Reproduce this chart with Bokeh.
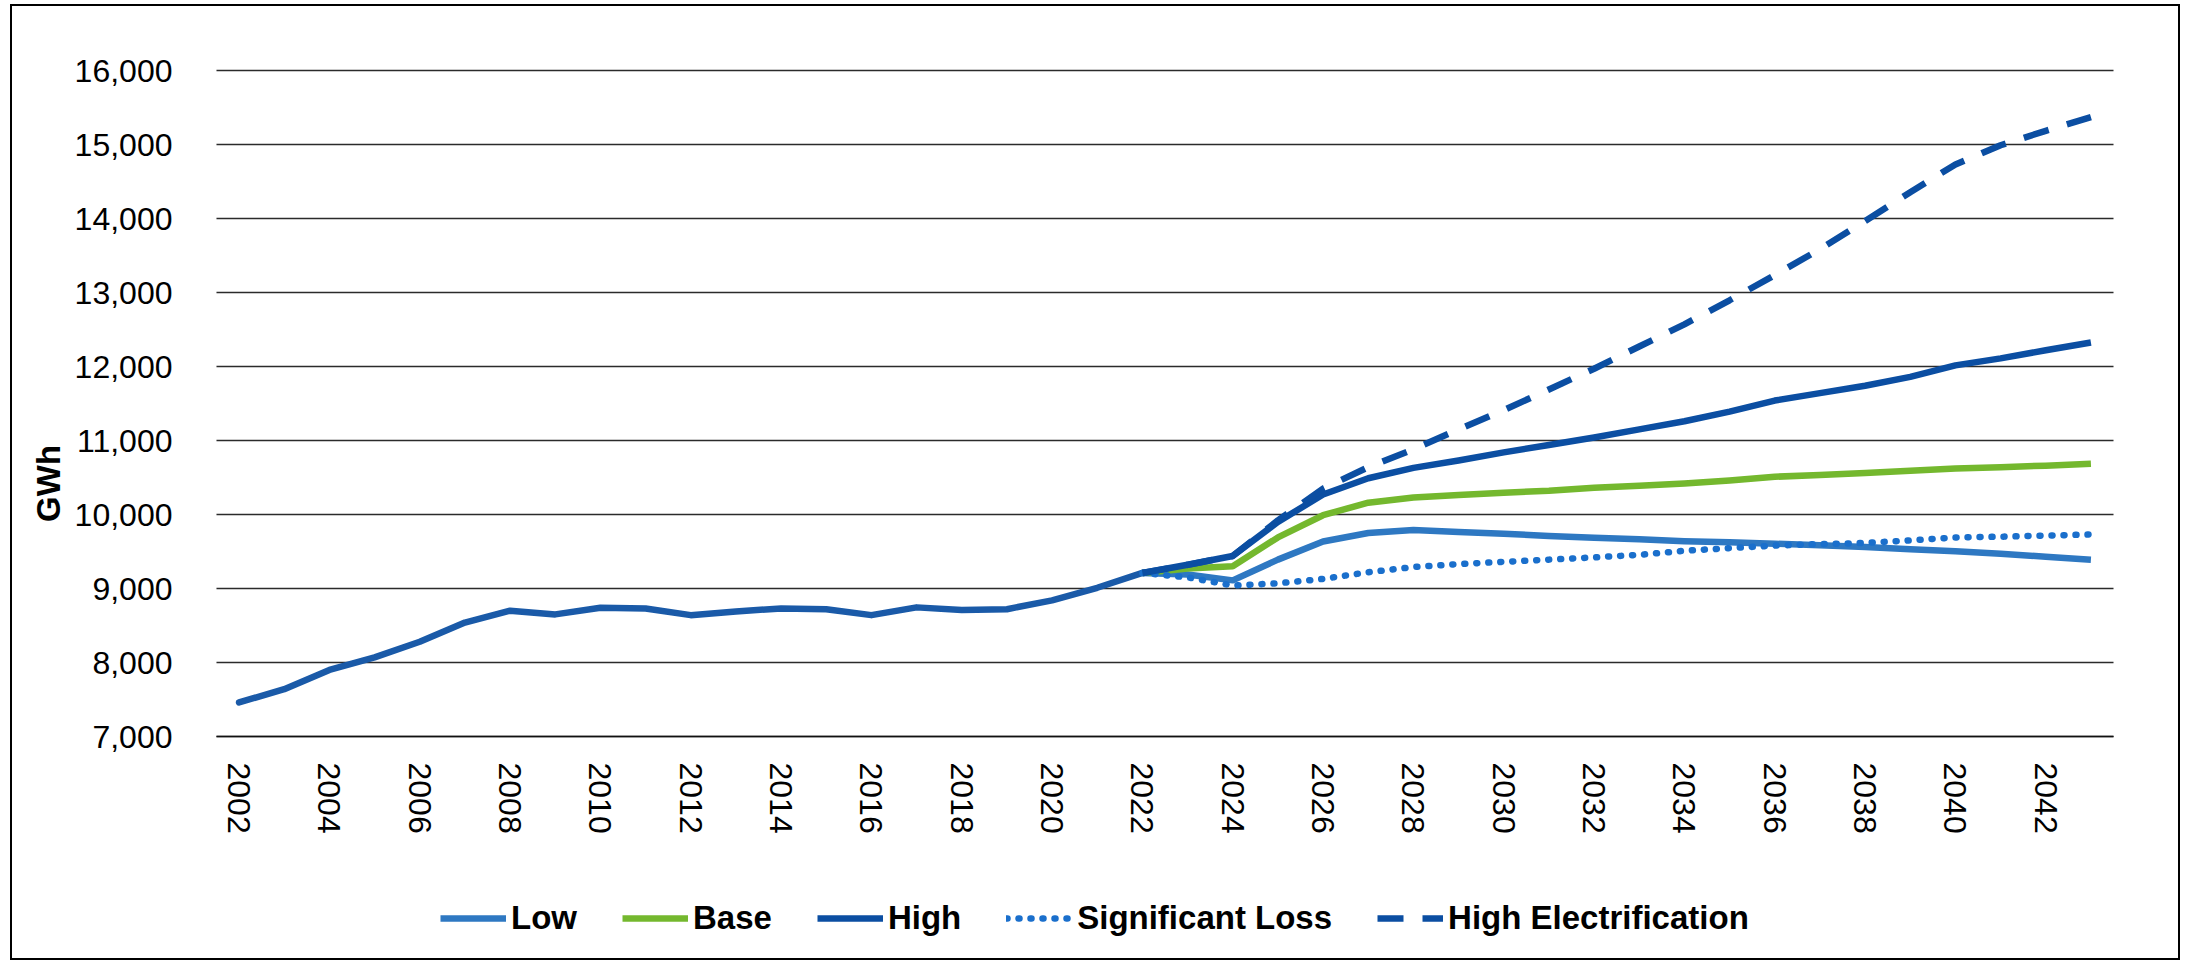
import math

from bokeh.embed import file_html
from bokeh.models import FixedTicker, Label, Legend, LegendItem, NumeralTickFormatter, Range1d
from bokeh.plotting import figure
from bokeh.resources import INLINE

# Annual energy (GWh): shared history, then one projection per scenario
years_hist = list(range(2002, 2023))
history = [7460, 7640, 7900, 8070, 8280, 8540, 8700, 8650, 8740, 8730, 8640,
           8690, 8730, 8720, 8640, 8745, 8710, 8720, 8840, 9010, 9210]

years_proj = list(range(2022, 2044))
low = [9210, 9190, 9110, 9390, 9635, 9750, 9790, 9765, 9740, 9710, 9685,
       9665, 9640, 9625, 9605, 9585, 9560, 9530, 9505, 9470, 9430, 9390]
base = [9210, 9270, 9300, 9690, 9990, 10160, 10230, 10265, 10295, 10320, 10360,
        10390, 10420, 10460, 10510, 10535, 10560, 10590, 10620, 10640, 10660, 10685]
high = [9210, 9320, 9440, 9900, 10270, 10490, 10630, 10730, 10840, 10940, 11040,
        11150, 11260, 11390, 11540, 11640, 11740, 11860, 12015, 12110, 12220, 12325]
significant_loss = [9210, 9150, 9040, 9070, 9130, 9220, 9290, 9330, 9360, 9390, 9420,
                    9455, 9510, 9545, 9580, 9600, 9615, 9650, 9690, 9700, 9715, 9730]
high_electrification = [9210, 9320, 9440, 9920, 10350, 10640, 10880, 11150, 11410, 11690, 11970,
                        12270, 12570, 12895, 13235, 13585, 13965, 14355, 14730, 14990, 15185, 15370]

y_ticks = list(range(7000, 16001, 1000))
x_ticks = list(range(years_hist[0], years_proj[-1], 2))

FONT = "Liberation Sans"
C_LOW = "#2E78C2"
C_BASE = "#74B82E"
C_HIGH = "#0B4EA2"
C_LOSS = "#1A6FCC"
C_HIST = "#1A5AA8"

# plotting area in data units; the frame also holds the axes, legend and axis title
x_lo, x_hi = years_hist[0] - 0.5, years_proj[-1] + 0.5
y_lo, y_hi = y_ticks[0], y_ticks[-1]
W, H = 2166, 952
px_per_year = 45.17
px_per_gwh = 0.0740

p = figure(
    width=W, height=H,
    output_backend="svg", toolbar_location=None, title_location=None,
    x_range=Range1d(x_lo - 204 / px_per_year, x_hi + 65 / px_per_year),
    y_range=Range1d(y_lo - 222 / px_per_gwh, y_hi + 64 / px_per_gwh),
    min_border=0,
    background_fill_color="white", border_fill_color="white",
)
p.styles = {"margin-left": "12px", "margin-top": "6px", "outline": "2px solid #000"}
p.outline_line_color = None

# horizontal gridlines across the plotting area only
p.xgrid.visible = False
p.ygrid.visible = False
p.segment(x0=[x_lo] * len(y_ticks), x1=[x_hi] * len(y_ticks), y0=y_ticks, y1=y_ticks,
          line_color="#2b2b2b", line_width=1.6)

xa, ya = p.xaxis[0], p.yaxis[0]
ya.ticker = FixedTicker(ticks=y_ticks)
ya.formatter = NumeralTickFormatter(format="0,0")
xa.ticker = FixedTicker(ticks=x_ticks)
ya.fixed_location = x_lo
xa.fixed_location = y_lo
xa.bounds = (x_lo, x_hi)

for ax in (xa, ya):
    ax.major_tick_line_color = None
    ax.minor_tick_line_color = None
    ax.major_label_text_font = FONT
    ax.major_label_text_font_size = "32px"
    ax.major_label_text_color = "#000000"
ya.axis_line_color = None
ya.major_label_standoff = 38
xa.axis_line_color = "#111111"
xa.axis_line_width = 1.6
xa.major_label_orientation = -math.pi / 2
xa.major_label_standoff = 20

LW = 6.5
p.line(years_hist, history, line_color=C_HIST, line_width=LW, line_join="round", line_cap="round")
r_low = p.line(years_proj, low, line_color=C_LOW, line_width=LW, line_join="round")
r_base = p.line(years_proj, base, line_color=C_BASE, line_width=LW, line_join="round")
r_high = p.line(years_proj, high, line_color=C_HIGH, line_width=LW, line_join="round")
r_loss = p.line(years_proj, significant_loss, line_color=C_LOSS, line_width=LW,
                line_dash="1 11", line_cap="round")
r_elec = p.line(years_proj, high_electrification, line_color=C_HIGH, line_width=LW,
                line_dash="26 19")

# vertical axis title, a little below the middle of the axis
p.add_layout(Label(
    x=x_lo - 168 / px_per_year, y=10420, text="GWh", angle=math.pi / 2,
    text_align="center", text_baseline="middle",
    text_font=FONT, text_font_size="33px", text_font_style="bold", text_color="#000000",
))

lg = Legend(items=[
    LegendItem(label="Low", renderers=[r_low]),
    LegendItem(label="Base", renderers=[r_base]),
    LegendItem(label="High", renderers=[r_high]),
    LegendItem(label="Significant Loss", renderers=[r_loss]),
    LegendItem(label="High Electrification", renderers=[r_elec]),
])
lg.orientation = "horizontal"
lg.location = (428, 21)
lg.label_text_font = FONT
lg.label_text_font_size = "33px"
lg.label_text_font_style = "bold"
lg.label_text_color = "#000000"
lg.glyph_width = 66
lg.glyph_height = 20
lg.label_standoff = 5
lg.spacing = 45
lg.padding = 0
lg.margin = 0
lg.border_line_color = None
lg.background_fill_alpha = 0
p.add_layout(lg)

open("out.html", "w").write(file_html(p, INLINE))
